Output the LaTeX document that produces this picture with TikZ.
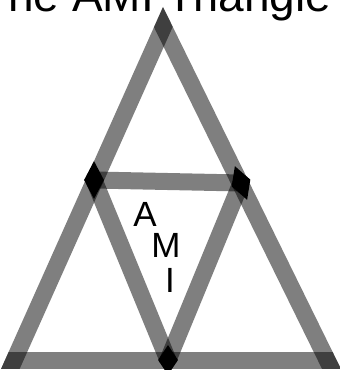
\documentclass[tikz,border=0pt]{standalone}
\usepackage{fontspec}
\setmainfont{Liberation Sans}
\usepackage{tikz}
\usetikzlibrary{shapes.geometric}

\begin{document}
\begin{tikzpicture}[
  x=1pt, y=1pt,
  outerbar/.style={line width=34pt, draw opacity=0.5, shorten <=-30pt, shorten >=-30pt},
  innerbar/.style={line width=17pt, draw opacity=0.5},
  joint/.style={diamond, fill=black, draw=none, inner sep=0pt},
  letter/.style={anchor=base, inner sep=0pt, font=\fontsize{35}{35}\selectfont}
]
\clip (0,0) rectangle (340,370);

% corners of the frame and the joints
\coordinate (apex) at (163,363);
\coordinate (bl) at (1,1);
\coordinate (br) at (341,1);
\coordinate (jl) at (94,190);
\coordinate (jr) at (241,187);
\coordinate (jb) at (168,10);

\node[anchor=base west, inner sep=0pt, font=\fontsize{46}{46}\selectfont] (title) at (-20,358) {The AMI Triangle};

% outer frame
\begin{scope}
  \clip (apex) -- (bl) -- (br) -- cycle;
  \draw[outerbar] (apex) -- (bl);
  \draw[outerbar] (bl) -- (br);
  \draw[outerbar] (br) -- (apex);
\end{scope}

% inner triangle
\draw[innerbar] (jl) -- (jr);
\draw[innerbar] (jl) -- (jb);
\draw[innerbar] (jr) -- (jb);

\node[joint, minimum width=20pt, minimum height=38pt] (djl) at (jl) {};
\node[joint, minimum width=20pt, minimum height=36pt, rotate=20] (djr) at (jr) {};
\node[joint, minimum width=20pt, minimum height=30pt] (djb) at (jb) {};

\node[letter] (la) at (145,143) {A};
\node[letter] (lm) at (166,112) {M};
\node[letter] (li) at (170,77) {I};
\end{tikzpicture}
\end{document}
